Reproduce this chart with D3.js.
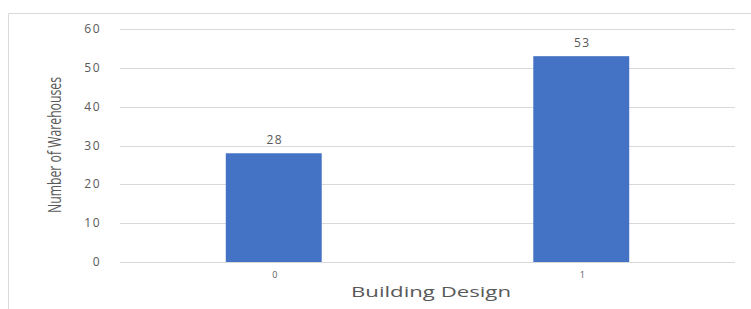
<!DOCTYPE html>
<html>
<head>
<meta charset="utf-8">
<script src="https://cdn.jsdelivr.net/npm/d3@7"></script>
<style>
	body { margin: 0; background: #fff; }
	text { font-family: 'Open Sans', 'DejaVu Sans', sans-serif; fill: #595959; }
</style>
</head>
<body>
<svg id="chart"></svg>
<script>
const categories = ['0', '1']
const counts = [28, 53]
const yTicks = [0, 10, 20, 30, 40, 50, 60]

const W = 751
const H = 309
const plot = { left: 120, right: 735, top: 29, bottom: 262 }

const svg = d3.select('#chart').attr('width', W).attr('height', H)

// outer chart frame (top + left edges visible)
svg.append('path')
	.attr('d', `M8.5,${H} V13.5 H${W}`)
	.attr('fill', 'none')
	.attr('stroke', '#d9d9d9')
	.attr('stroke-width', 1)

const x = d3
	.scaleBand()
	.domain(categories)
	.range([plot.left, plot.right])
	.paddingInner(0.688)
	.paddingOuter(0.344)

const y = d3
	.scaleLinear()
	.domain([0, 60])
	.range([plot.bottom, plot.top])

// gridlines
svg.append('g')
	.selectAll('line')
	.data(yTicks)
	.enter()
	.append('line')
	.attr('x1', plot.left)
	.attr('x2', plot.right)
	.attr('y1', d => Math.round(y(d)) + 0.5)
	.attr('y2', d => Math.round(y(d)) + 0.5)
	.attr('stroke', '#d9d9d9')
	.attr('stroke-width', 1)

// y tick labels
svg.append('g')
	.selectAll('text')
	.data(yTicks)
	.enter()
	.append('text')
	.attr('x', 101)
	.attr('y', d => y(d) + 4)
	.attr('text-anchor', 'end')
	.style('font-size', '12px')
	.style('letter-spacing', '1.5px')
	.text(d => d)

// bars
svg.append('g')
	.selectAll('rect')
	.data(counts)
	.enter()
	.append('rect')
	.attr('x', (d, i) => x(categories[i]))
	.attr('y', d => y(d))
	.attr('width', x.bandwidth())
	.attr('height', d => y(0) - y(d))
	.attr('fill', '#4472c4')

// value labels
svg.append('g')
	.selectAll('text')
	.data(counts)
	.enter()
	.append('text')
	.attr('x', (d, i) => x(categories[i]) + x.bandwidth() / 2 + 1)
	.attr('y', d => y(d) - 9)
	.attr('text-anchor', 'middle')
	.style('font-size', '12px')
	.style('letter-spacing', '1.5px')
	.text(d => d)

// x tick labels
svg.append('g')
	.selectAll('text')
	.data(categories)
	.enter()
	.append('text')
	.attr('x', d => x(d) + x.bandwidth() / 2 + 1)
	.attr('y', 278)
	.attr('text-anchor', 'middle')
	.style('font-size', '9px')
	.text(d => d)

// axis titles
svg.append('text')
	.attr('x', 351)
	.attr('y', 297)
	.attr('textLength', 160)
	.attr('lengthAdjust', 'spacingAndGlyphs')
	.style('font-size', '14px')
	.text('Building Design')

svg.append('text')
	.attr('transform', 'translate(61,145) rotate(-90)')
	.attr('text-anchor', 'middle')
	.attr('textLength', 136)
	.attr('lengthAdjust', 'spacingAndGlyphs')
	.style('font-size', '18px')
	.text('Number of Warehouses')
</script>
</body>
</html>
